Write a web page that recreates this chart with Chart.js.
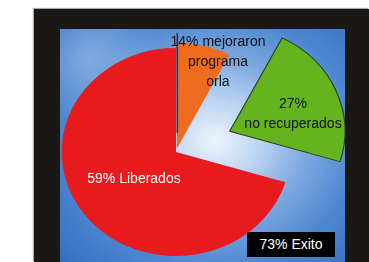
<!DOCTYPE html>
<html><head><meta charset="utf-8">
<script src="https://cdn.jsdelivr.net/npm/chart.js@4/dist/chart.umd.min.js"></script>
<style>
html,body{margin:0;padding:0;background:#fff;width:369px;height:262px;overflow:hidden;}
#frame{position:absolute;left:34px;top:9px;width:335px;height:253px;background:#1b1715;box-shadow:-1px -1px 1px #aaa;}
#panel{position:absolute;left:60px;top:29px;width:285px;height:233px;
 background:
  radial-gradient(circle at 10% 12%, rgba(175,205,240,0.55) 0%, rgba(175,205,240,0) 22%),
  radial-gradient(ellipse 72% 78% at 54% 48%, #edf4fc 0%, #bcd5f1 22%, #7ea9e0 45%, #4d86d0 70%, #3570c0 100%);}
#wrap{position:absolute;left:0;top:0;width:369px;height:262px;}
.lbl{position:absolute;font-family:"Liberation Sans",Arial,sans-serif;font-size:14px;line-height:20px;text-align:center;white-space:nowrap;}
#l0{left:158px;top:31px;width:120px;color:#111;}
#l1{left:233px;top:93px;width:120px;color:#111;}
#l2{left:66px;top:168px;width:136px;color:#fff;}
#box{left:247px;top:232px;width:88px;height:25px;line-height:25px;background:#000;color:#fff;}
</style></head>
<body>
<div id="frame"></div>
<div id="panel"></div>
<div id="wrap"><canvas id="c" width="369" height="262"></canvas></div>
<div class="lbl" id="l0"></div>
<div class="lbl" id="l1"></div>
<div class="lbl" id="l2"></div>
<div class="lbl" id="box"></div>
<script>
// Data (slice sizes as drawn), clockwise from 12 o'clock
const categories = ['14% mejoraron programa orla', '27% no recuperados', '59% Liberados'];
const values = [7.5, 22.2, 70.3];
const labelLines = [['14% mejoraron', 'programa', 'orla'], ['27%', 'no recuperados'], ['59% Liberados']];
const summaryLabel = '73% Exito';

labelLines.forEach((lines, i) => {
  const el = document.getElementById('l' + i);
  lines.forEach((t, j) => { if (j) el.appendChild(document.createElement('br')); el.appendChild(document.createTextNode(t)); });
});
document.getElementById('box').textContent = summaryLabel;

const SX = 1.1; // horizontal stretch of the original picture
const stretch = {
  id: 'stretch',
  beforeDatasetsDraw(chart) {
    const a = chart.chartArea, ctx = chart.ctx;
    const cx = (a.left + a.right) / 2, cy = (a.top + a.bottom) / 2;
    ctx.save(); ctx.translate(cx, cy); ctx.scale(SX, 1); ctx.translate(-cx, -cy);
  },
  afterDatasetsDraw(chart) {
    const ctx = chart.ctx;
    const arc = chart.getDatasetMeta(0).data[0];
    const o = arc.options.offset / 4;
    const half = (arc.startAngle + arc.endAngle) / 2;
    const fix = 1 - Math.sin(Math.min(Math.PI, arc.circumference));
    const t = o * (1 + fix);
    const x = arc.x + Math.cos(half) * t, y = arc.y + Math.sin(half) * t;
    ctx.beginPath();
    ctx.moveTo(x, y - 14);
    ctx.lineTo(x, y - arc.outerRadius - 10);
    ctx.strokeStyle = '#2a3558'; ctx.lineWidth = 1.5; ctx.stroke();
    ctx.restore();
  }
};

new Chart(document.getElementById('c'), {
  type: 'pie',
  data: {
    labels: categories,
    datasets: [{
      data: values,
      backgroundColor: ['#ef6b1e', '#63b41f', '#e81a1e'],
      borderColor: ['#ef6b1e', '#2d3a1c', '#e81a1e'],
      borderWidth: [0, 1, 0],
      offset: [13, 212, 0],
      radius: 104,
      clip: false
    }]
  },
  options: {
    responsive: false,
    animation: false,
    events: [],
    layout: { padding: { left: 0, right: 17, top: 42, bottom: 0 } },
    plugins: { legend: { display: false }, tooltip: { enabled: false } }
  },
  plugins: [stretch]
});
</script>
</body></html>
